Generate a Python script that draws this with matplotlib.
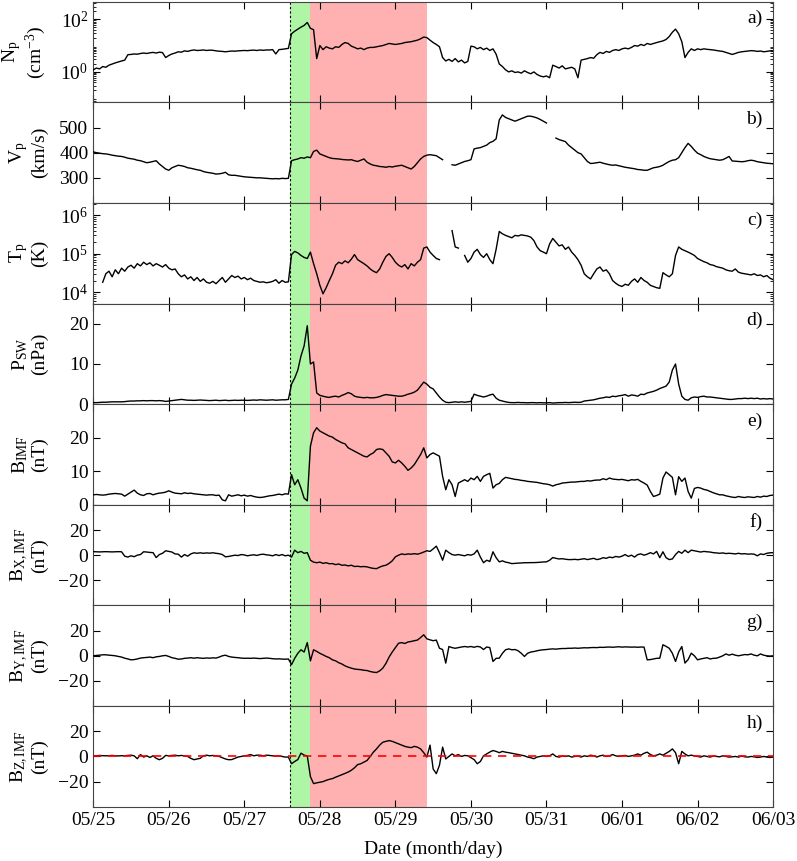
import numpy as np
import matplotlib
matplotlib.use("Agg")
import matplotlib.pyplot as plt
from matplotlib.ticker import LogLocator, NullFormatter, FixedLocator

plt.rcParams['font.family'] = ['Liberation Serif', 'DejaVu Serif']
plt.rcParams['mathtext.fontset'] = 'custom'
plt.rcParams['mathtext.rm'] = 'Liberation Serif'
plt.rcParams['mathtext.it'] = 'Liberation Serif:italic'
plt.rcParams['font.size'] = 14

# hourly samples, 05/25 00:00 .. 06/03 00:00 (217 values per series)
n_p = [1.2, 1.4, 1.3, 1.6, 1.5, 1.8, 2.0, 2.2, 2.4, 2.6, 2.8, 4.5, 4.6, 4.8, 4.7, 5.0, 5.2, 5.0, 5.3, 5.5, 5.2, 5.6, 5.4, 3.5,
       4.2, 4.8, 5.2, 5.8, 5.6, 6.3, 6.0, 6.5, 6.8, 6.5, 6.6, 6.8, 6.5, 6.7, 6.6, 6.3, 6.1, 6.0, 5.8, 6.0, 6.2, 6.1, 6.3, 6.4,
       6.5, 6.4, 6.6, 6.7, 6.5, 6.8, 6.6, 6.8, 6.8, 7.0, 4.8, 7.0, 7.2, 7.5, 7.8, 28, 35, 42, 50, 58, 75, 45, 40, 3.2,
       10, 7, 9, 8, 7.5, 9, 8.5, 11, 13, 12, 9.5, 8.5, 7.5, 8, 7, 8, 8.5, 8.5, 9, 9.5, 10, 11, 12, 11.5,
       11, 11.5, 12, 13, 13.5, 14, 15, 16, 18, 21, 20, 16, 13, 11, 9, 3.5, 2.6, 3.0, 2.5, 3.2, 2.4, 2.8, 2.2, 2.5,
       9.5, 9, 7.5, 8.5, 7, 8, 6.5, 7.5, 4.7, 2.0, 1.6, 1.2, 1.0, 1.1, 0.95, 1.0, 0.9, 1.1, 0.95, 0.85, 1.0, 0.8, 0.7, 0.65,
       0.7, 0.6, 1.8, 1.6, 1.4, 1.7, 1.3, 1.4, 1.5, 1.3, 0.6, 2.8, 3.0, 3.2, 3.5, 3.3, 4.5, 5.5, 5.0, 6.0, 5.5, 6.5, 7.0, 6.5,
       7.5, 8.0, 7.5, 8.5, 10, 9.5, 11, 10, 12, 11, 12, 13, 14, 15, 17, 22, 32, 42, 28, 14, 3.5, 5.5, 7.5, 6.5,
       7.5, 7.0, 7.5, 7.2, 7.0, 6.8, 6.5, 6.2, 6.0, 5.5, 5.0, 4.6, 5.0, 5.5, 5.8, 6.0, 6.2, 6.4, 6.3, 6.0, 6.2, 5.8, 6.0, 6.3,
       6.1]

v_p = [403, 400, 398, 396, 395, 393, 390, 388, 386, 385, 382, 378, 376, 374, 370, 368, 364, 360, 362, 365, 368, 355, 345, 335,
       330, 340, 345, 350, 348, 345, 340, 338, 335, 332, 330, 325, 322, 320, 318, 315, 316, 318, 322, 312, 310, 310, 308, 306,
       304, 303, 302, 301, 300, 300, 299, 298, 297, 296, 297, 296, 298, 297, 298, 368, 372, 375, 380, 378, 383, 380, 405, 410,
       395, 390, 385, 380, 377, 376, 375, 373, 372, 371, 372, 368, 365, 370, 375, 362, 355, 350, 348, 345, 344, 342, 345, 343,
       346, 348, 350, 345, 340, 335, 345, 360, 375, 385, 390, 392, 390, 388, 380, 372, np.nan, np.nan, 352, 350, 355, 360, 365, 368,
       372, 415, 418, 420, 425, 430, 440, 445, 455, 530, 550, 540, 535, 530, 525, 530, 535, 540, 545, 545, 542, 538, 532, 525,
       518, np.nan, np.nan, 458, 452, 448, 444, 430, 420, 410, 400, 395, 380, 365, 357, 358, 360, 362, 358, 355, 352, 350, 351, 348,
       345, 342, 340, 338, 336, 333, 332, 330, 330, 335, 340, 342, 345, 350, 358, 365, 370, 372, 380, 400, 420, 437, 425, 410,
       398, 392, 385, 380, 376, 374, 372, 370, 372, 378, 385, 367, 366, 365, 364, 365, 368, 370, 368, 364, 362, 360, 358, 357,
       356]

# proton temperature in units of 10^3 K
t_p_kk = [np.nan, np.nan, np.nan, 18, 30, 35, 25, 38, 30, 42, 35, 45, 50, 42, 55, 48, 60, 52, 58, 48, 55, 50, 45, 52,
          42, 38, 40, 30, 25, 28, 22, 25, 20, 24, 19, 22, 18, 17, 19, 16.5, 20, 24, 18, 22, 27, 24, 26, 22,
          24, 21, 23, 20, 19, 18, 18.5, 17.5, 18, 19, 21, 17, 20, 18, 18.5, 95, 115, 105, 90, 80, 75, 110, 55, 30,
          15, 9, 13, 20, 30, 50, 60, 55, 65, 58, 72, 95, 70, 62, 55, 48, 40, 35, 32, 40, 60, 85, 100, 80,
          60, 50, 45, 52, 40, 55, 48, 60, 70, 140, 150, 110, 90, 75, 70, np.nan, np.nan, np.nan, 400, 150, 140, np.nan, 90, 60,
          75, 110, 130, 95, 80, 100, 70, 55, 130, 380, 330, 300, 280, 260, 300, 290, 310, 300, 290, 270, 220, 150, 120, 110,
          100, 180, 250, 200, 160, 170, 130, 150, 110, 90, 70, 50, 30, 25, 22, 30, 40, 45, 35, 38, 30, 20, 17, 15,
          14, 16, 15, 19, 22, 18, 24, 20, 18, 15, 14, 13, 12.5, 32, 28, 25, 30, 90, 150, 130, 120, 110, 100, 90,
          75, 68, 62, 58, 52, 50, 46, 44, 42, 38, 36, 35, 40, 33, 31, 30, 29, 28, 30, 27, 28, 25, 27, 23,
          21]

p_sw = [0.4, 0.4, 0.45, 0.5, 0.5, 0.55, 0.6, 0.6, 0.6, 0.6, 0.65, 0.75, 0.8, 0.8, 0.85, 0.85, 0.9, 0.85, 0.9, 0.9, 0.85, 0.9, 0.85, 0.7,
        0.8, 0.9, 1.0, 1.1, 1.2, 1.1, 1.0, 1.0, 0.95, 1.0, 1.05, 1.0, 0.95, 0.9, 0.95, 1.0, 0.9, 0.95, 1.0, 0.9, 0.95, 1.0, 0.95, 1.0,
        1.0, 0.95, 1.0, 1.05, 1.0, 1.1, 1.05, 1.0, 1.05, 1.1, 1.0, 1.05, 1.1, 1.1, 1.2, 5.0, 6.5, 8.5, 12, 14.5, 19.5, 10, 10.5, 2.8,
        2.2, 2.0, 1.8, 1.7, 1.9, 2.0, 1.8, 2.2, 2.5, 2.9, 2.6, 2.0, 1.8, 1.7, 1.6, 1.7, 1.6, 1.6, 1.7, 1.9, 2.2, 2.4, 2.3, 2.2,
        2.1, 2.0, 2.0, 2.2, 2.5, 2.7, 3.0, 3.5, 4.5, 5.5, 5.0, 4.2, 3.8, 2.8, 1.8, 1.0, 0.5, 0.4, 0.5, 0.6, 0.5, 0.6, 0.5, 0.6,
        0.7, 2.5, 2.2, 2.0, 1.8, 2.0, 2.3, 2.5, 1.5, 1.0, 0.8, 0.6, 0.45, 0.4, 0.4, 0.45, 0.4, 0.4, 0.35, 0.4, 0.4, 0.35, 0.4, 0.35,
        0.35, 0.4, 0.3, 0.35, 0.4, 0.4, 0.45, 0.4, 0.45, 0.5, 0.45, 0.5, 0.8, 0.9, 1.0, 1.1, 1.3, 1.5, 1.6, 1.8, 1.7, 2.0, 1.9, 2.1,
        2.2, 2.4, 2.0, 2.3, 2.2, 2.0, 2.5, 2.4, 2.8, 3.0, 3.2, 3.5, 3.9, 4.2, 4.5, 5.5, 8.5, 10.0, 5.0, 2.0, 1.2, 1.0, 1.6, 1.8,
        1.7, 1.9, 2.0, 1.8, 1.8, 1.7, 1.6, 1.5, 1.4, 1.3, 1.2, 1.2, 1.3, 1.4, 1.4, 1.5, 1.4, 1.5, 1.4, 1.5, 1.3, 1.4, 1.3, 1.4,
        1.3]

b_imf = [3.0, 3.1, 3.0, 2.9, 3.0, 3.2, 3.3, 3.4, 3.3, 3.2, 2.6, 3.2, 3.8, 4.4, 3.5, 3.0, 2.8, 3.3, 3.4, 3.0, 3.3, 3.5, 3.6, 3.8,
         4.2, 3.8, 3.5, 3.4, 3.3, 3.6, 3.4, 3.5, 3.3, 3.2, 3.1, 3.0, 2.9, 3.0, 3.0, 2.8, 2.9, 1.5, 1.2, 3.0, 2.6, 2.8, 3.0, 2.7,
         2.9, 2.6, 2.8, 2.5, 2.3, 2.2, 2.3, 2.5, 2.7, 2.8, 3.0, 3.2, 3.0, 3.3, 3.2, 9.0, 6.0, 7.5, 5.0, 2.0, 1.2, 17.5, 21.5, 23.0,
         22.0, 21.5, 21.0, 20.5, 20.2, 19.5, 19.0, 18.5, 18.2, 17.0, 16.5, 16.0, 15.5, 15.0, 14.5, 14.3, 15.0, 15.5, 16.5, 16.7, 16.5, 15.5, 14.5, 12.8,
         12.5, 13.3, 12.5, 11.5, 10.3, 11.0, 12.0, 13.5, 15.0, 17.0, 14.0, 15.0, 15.5, 15.0, 14.5, 8.5, 4.5, 7.5, 6.0, 2.5, 6.5, 7.0, 7.5, 7.0,
         8.0, 7.5, 8.5, 7.0, 8.5, 9.0, 9.4, 5.0, 6.0, 6.4, 7.5, 8.2, 8.0, 7.8, 7.6, 7.5, 7.3, 7.2, 7.0, 6.9, 6.8, 6.7, 6.5, 6.3,
         6.2, 6.0, 5.6, 6.0, 6.2, 6.5, 6.6, 6.7, 6.8, 6.8, 6.9, 7.0, 7.0, 7.2, 7.1, 7.3, 7.4, 7.4, 7.8, 7.5, 8.0, 7.7, 7.6, 7.5,
         7.6, 7.4, 7.2, 7.5, 7.4, 7.6, 7.0, 6.5, 5.9, 4.0, 2.5, 2.8, 3.2, 8.0, 9.8, 9.0, 8.2, 3.0, 8.4, 7.0, 8.0, 4.0, 2.0, 4.9,
         5.2, 5.0, 4.6, 4.4, 4.0, 3.6, 3.3, 3.0, 3.0, 2.7, 2.5, 2.3, 2.2, 2.5, 2.3, 2.2, 2.4, 2.3, 2.2, 2.5, 2.3, 2.6, 2.5, 2.8,
         2.9]

bx = [2.8, 2.7, 2.6, 2.7, 2.8, 2.7, 2.6, 2.7, 2.8, 2.7, -0.8, -1.5, -0.5, -1.2, 0.0, 0.5, 2.7, 2.5, 2.2, 2.0, -1.9, 0.5, 1.5, 3.5,
      3.0, 2.5, 1.0, 0.8, -1.5, 0.5, -0.8, 1.0, 1.9, 1.5, 1.9, 1.5, 1.8, 1.6, 1.9, 1.5, 1.2, 0.5, -1.3, -1.0, -0.5, 0.0, -0.3, 0.5,
      0.2, -0.5, 0.0, 0.3, -0.2, 0.5, 0.8, 0.3, 0.0, -0.5, 0.5, -0.3, 0.5, -0.5, 0.0, -1.5, 4.0, 2.0, 3.0, 1.5, 2.0, -4.0, -5.5, -6.0,
      -5.5, -6.5, -6.0, -6.8, -6.7, -7.5, -7.0, -8.0, -7.8, -8.5, -8.0, -9.0, -8.8, -9.2, -9.0, -9.3, -10.0, -10.5, -10.7, -9.5, -8.5, -8.0, -6.5, -4.5,
      -1.3, 0.0, 1.0, 0.5, 1.0, 0.8, 1.2, 0.8, 1.5, 2.5, 3.5, 3.0, 5.0, 7.2, 2.0, -4.0, 4.0, 2.0, 0.5, 0.0, 0.5, 0.0, -0.5, 0.5,
      0.0, 1.0, 4.0, -1.5, -6.0, -4.0, -5.0, 2.7, -2.0, -5.3, -4.5, -5.5, -6.0, -6.7, -6.5, -6.3, -6.2, -6.0, -6.0, -5.9, -5.9, -5.8, -5.6, -5.4,
      -5.3, -4.0, -1.9, -2.5, -3.0, -2.8, -3.2, -3.5, -3.5, -3.3, -3.6, -3.2, -2.8, -3.5, -3.0, -2.5, -3.5, -3.0, -2.0, -2.5, -1.5, -2.0, -1.0, -1.5,
      -0.8, 0.5, -1.0, 0.0, -1.5, 0.5, 1.0, 0.0, 0.8, 2.0, 1.0, 3.0, -2.0, 2.7, -2.0, -3.5, -3.0, 0.5, 3.0, 1.5, 4.0, 2.0, 4.0, 3.5,
      3.0, 2.5, 3.0, 2.7, 2.5, 2.0, 1.8, 1.5, 1.8, 1.3, 1.5, 1.3, 1.0, 1.5, 1.0, 1.2, 0.8, 1.0, 0.8, -0.5, 1.0, 0.5, 1.5, 1.9,
      2.0]

by = [0.0, 0.3, 0.5, 0.8, 0.8, 0.5, 0.3, 0.0, -0.5, -1.0, -1.9, -2.5, -3.2, -3.0, -2.5, -1.8, -1.5, -1.3, -1.0, -1.5, -0.8, -0.5, 0.0, 0.3,
      -0.5, -1.5, -2.0, -2.7, -2.5, -2.0, -1.8, -1.5, -1.9, -1.5, -1.8, -2.0, -1.7, -1.9, -1.6, -1.8, -1.0, 0.0, 0.5, -0.5, -1.0, -1.3, -1.5, -1.8,
      -2.0, -1.9, -2.0, -1.8, -2.0, -2.2, -2.0, -1.8, -2.0, -2.3, -2.5, -2.4, -2.6, -2.7, -2.5, -7.0, -2.0, 2.0, 4.8, 3.0, 10.5, -4.0, 4.8, 3.5,
      2.0, 0.8, -0.5, -1.5, -3.2, -4.0, -5.5, -6.5, -8.0, -9.0, -9.8, -10.5, -10.8, -11.0, -11.5, -11.7, -12.5, -13.0, -13.3, -12.0, -9.8, -6.0, -1.0, 3.0,
      6.5, 10.0, 10.5, 9.8, 11.0, 11.4, 12.0, 12.5, 14.5, 16.7, 13.5, 12.7, 12.0, 12.5, 6.0, 5.0, -5.8, 7.4, 6.5, 6.0, 6.5, 7.0, 7.4, 7.0,
      7.4, 6.8, 7.5, 7.0, 5.0, 7.0, 6.5, -4.5, -2.0, -1.9, 2.0, 4.8, 5.5, 4.8, 5.0, 4.0, 2.0, -0.5, 2.0, 3.0, 3.4, 4.0, 4.5, 4.8,
      5.0, 5.3, 5.5, 5.3, 5.6, 5.8, 5.8, 6.0, 6.0, 6.2, 6.0, 6.2, 6.4, 6.3, 6.5, 6.6, 6.5, 6.8, 6.7, 6.9, 7.0, 6.8, 7.0, 7.2,
      6.9, 7.1, 7.0, 6.9, 7.0, 6.8, 7.0, 6.9, -3.2, -3.0, -2.5, -2.0, -1.9, 8.8, 7.5, 6.0, 2.0, -4.5, 3.0, 7.4, -5.8, -3.0, 2.1, 0.0,
      -3.2, -2.5, -2.0, -1.5, -2.5, -2.0, -1.9, -1.0, 0.0, 1.5, 0.5, 1.3, 0.5, 0.0, 0.5, 1.0, 0.8, 1.5, 0.5, 0.0, 1.5, 0.5, 0.0, -0.2,
      0.0]

bz = [0.5, 0.5, 0.8, 0.6, 0.5, 0.6, 0.8, 0.5, 0.4, 0.6, 0.5, 0.8, 1.0, 0.5, -1.8, 1.5, -0.5, 0.5, -0.8, 0.5, -1.5, -2.6, -1.5, 0.8,
      0.5, 0.8, 1.0, 0.5, 0.8, 0.5, 0.0, -1.5, -2.6, -2.0, -1.5, 0.5, 1.0, 0.5, 0.8, 0.5, 0.0, -1.0, -2.0, -2.6, -2.5, -1.5, -0.5, 0.0,
      0.5, 0.8, 1.5, 0.5, 1.0, 1.0, 0.5, 1.0, 0.8, 0.5, 0.3, 0.5, 0.0, -0.5, -0.5, -5.8, -4.0, -2.5, 2.6, 1.0, 0.5, -16.0, -21.6, -21.0,
      -20.5, -20.0, -19.0, -18.2, -17.6, -16.5, -15.5, -14.5, -13.5, -12.4, -11.0, -9.0, -6.5, -5.8, -4.5, -3.2, 0.0, 3.4, 6.0, 9.0, 11.3, 12.0, 12.6, 12.0,
      11.0, 10.0, 9.0, 8.0, 7.4, 7.0, 8.0, 7.4, 6.0, 3.0, -0.5, 9.0, -10.0, -13.7, -7.0, 7.4, -2.0, 0.0, 2.0, 0.5, 1.5, 0.0, 0.8, 0.5,
      -1.0, -2.5, -5.8, -4.0, 0.5, 2.0, 3.5, 4.7, 4.0, 3.0, 4.0, 3.4, 3.0, 2.5, 2.0, 1.5, 1.0, 0.5, -0.5, -1.0, -1.8, -0.5, 0.0, 0.5,
      0.0, 0.5, 2.0, 0.0, -0.5, 0.3, 0.0, 0.5, -0.5, 0.0, 0.3, -0.5, 0.5, 0.0, 1.0, 0.5, -0.5, 0.5, 1.0, 0.0, 0.5, 1.5, 0.5, 0.0,
      0.5, 0.8, 0.0, 0.5, 1.0, 2.0, 1.0, 2.5, 3.4, 1.5, 0.5, 1.0, 2.0, 1.0, 2.5, 4.0, 6.0, 3.0, -5.8, 4.0, 2.0, 0.5, 1.0, 0.5,
      0.0, -0.5, 0.5, 0.0, -0.5, 0.3, 0.0, -0.3, 0.5, 0.0, -0.5, -0.3, 0.0, -0.5, 0.3, -0.3, -0.5, 0.0, -0.3, -0.8, -0.5, 0.0, -0.5, -0.8,
      -0.5]

date_labels = ['05/25', '05/26', '05/27', '05/28', '05/29', '05/30', '05/31', '06/01', '06/02', '06/03']
green_span = (62.6, 68.9)   # hours since 05/25 00:00
red_span = (68.9, 105.9)

t = np.arange(len(n_p)) / 24.0  # days since 05/25

panels = [
    (n_p, r'$\mathrm{N_p}$' + '\n' + r'(cm$^{\mathrm{-3}}$)', 'a)', 'log', (0.07, 460)),
    (v_p, r'$\mathrm{V_p}$' + '\n(km/s)', 'b)', 'linear', (200, 600)),
    (np.array(t_p_kk) * 1e3, r'$\mathrm{T_p}$' + '\n(K)', 'c)', 'log', (5e3, 2.1e6)),
    (p_sw, r'$\mathrm{P_{SW}}$' + '\n(nPa)', 'd)', 'linear', (0, 25)),
    (b_imf, r'$\mathrm{B_{IMF}}$' + '\n(nT)', 'e)', 'linear', (0, 30)),
    (bx, r'$\mathrm{B_{X,IMF}}$' + '\n(nT)', 'f)', 'linear', (-40, 40)),
    (by, r'$\mathrm{B_{Y,IMF}}$' + '\n(nT)', 'g)', 'linear', (-40, 40)),
    (bz, r'$\mathrm{B_{Z,IMF}}$' + '\n(nT)', 'h)', 'linear', (-40, 40)),
]
lin_ticks = {'b)': [300, 400, 500], 'd)': [0, 10, 20], 'e)': [0, 10, 20],
             'f)': [-20, 0, 20], 'g)': [-20, 0, 20], 'h)': [-20, 0, 20]}

fig, axes = plt.subplots(8, 1, figsize=(7.97, 8.61), dpi=100, sharex=True)
fig.subplots_adjust(left=0.117, right=0.970, top=0.998, bottom=0.063, hspace=0)

for ax, (vals, ylab, letter, scale, ylim) in zip(axes, panels):
    ax.axvspan(green_span[0] / 24, green_span[1] / 24, color='#aef5a6', lw=0, zorder=0)
    ax.axvspan(red_span[0] / 24, red_span[1] / 24, color='#ffb0b0', lw=0, zorder=0)
    ax.axvline(green_span[0] / 24, color='k', ls=(0, (2, 2)), lw=0.8, zorder=1)
    ax.plot(t, vals, color='k', lw=1.0, zorder=3)
    ax.set_yscale(scale)
    ax.set_ylim(*ylim)
    if scale == 'log':
        if letter == 'a)':
            ax.yaxis.set_major_locator(FixedLocator([1, 100]))
        else:
            ax.yaxis.set_major_locator(FixedLocator([1e4, 1e5, 1e6]))
        ax.yaxis.set_minor_locator(LogLocator(base=10, subs=np.arange(2, 10), numticks=20))
        ax.yaxis.set_minor_formatter(NullFormatter())
    else:
        ax.set_yticks(lin_ticks[letter])
    ax.set_ylabel(ylab, linespacing=1.05)
    # the label's right edge sits at this x
    ax.yaxis.set_label_coords(-0.066, 0.5)
    ax.text(0.985, 0.83, letter, transform=ax.transAxes, ha='right', va='center')
    ax.tick_params(which='both', direction='in', top=True, right=True)
    ax.tick_params(which='major', length=5, width=0.8)
    ax.tick_params(which='minor', length=2.5, width=0.6)
    for s in ax.spines.values():
        s.set_linewidth(0.8)
        s.set_color('#444444')

axes[-1].axhline(0, color='red', ls=(0, (5, 4)), lw=1.2, zorder=4)
axes[-1].set_xlim(0, 9)
axes[-1].set_xticks(np.arange(len(date_labels)))
axes[-1].set_xticklabels(date_labels)
axes[-1].set_xlabel('Date (month/day)', labelpad=9)

fig.savefig('out.png', dpi=100)
